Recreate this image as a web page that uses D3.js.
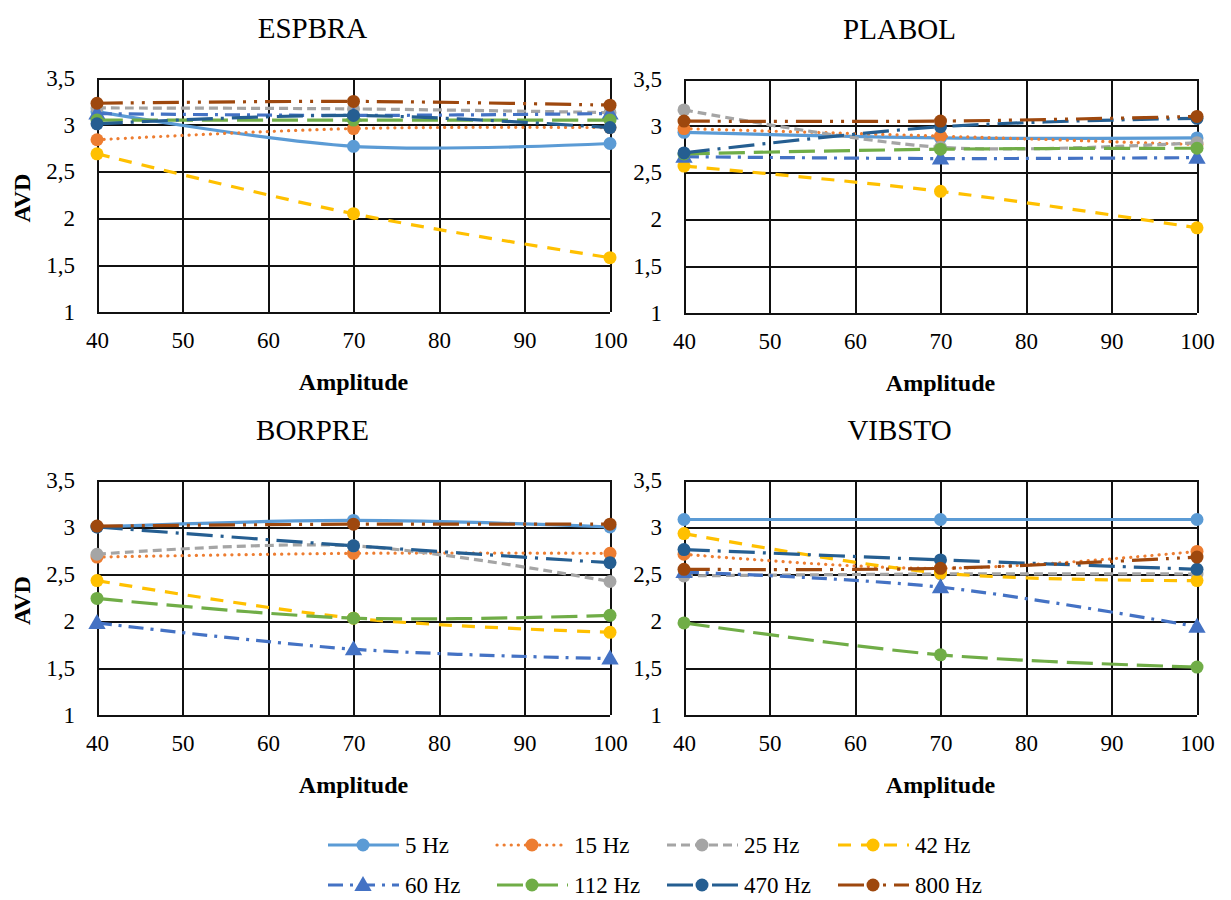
<!DOCTYPE html>
<meta charset="utf-8">
<script src="https://d3js.org/d3.v7.min.js"></script>
<style>
body { margin: 0; background: #fff; }
svg text { font-family: "Liberation Serif", "Times New Roman", serif !important; fill: #000; }
.grid line { stroke: #111; stroke-width: 2; shape-rendering: crispEdges; }
.grid path { display: none; }
.grid text { font-size: 23px; }
</style>
<body>
<script>
// data
var amplitudes = [40, 70, 100];
var seriesNames = ["5 Hz", "15 Hz", "25 Hz", "42 Hz", "60 Hz", "112 Hz", "470 Hz", "800 Hz"];
var xTicks = [40, 50, 60, 70, 80, 90, 100];
var yTicks = [1, 1.5, 2, 2.5, 3, 3.5];
var panelTitles = ["ESPBRA", "PLABOL", "BORPRE", "VIBSTO"];

// one row per series (5 Hz ... 800 Hz), values at amplitude 40, 70, 100
var espbra = [
    [3.14, 2.77, 2.80],
    [2.84, 2.96, 2.97],
    [3.18, 3.17, 3.13],
    [2.69, 2.05, 1.58],
    [3.12, 3.10, 3.12],
    [3.05, 3.05, 3.05],
    [3.01, 3.10, 2.97],
    [3.23, 3.25, 3.21]
];
var plabol = [
    [2.93, 2.87, 2.87],
    [2.97, 2.89, 2.80],
    [3.17, 2.77, 2.82],
    [2.57, 2.30, 1.91],
    [2.67, 2.65, 2.66],
    [2.70, 2.75, 2.76],
    [2.71, 2.99, 3.08],
    [3.05, 3.05, 3.10]
];
var borpre = [
    [3.00, 3.07, 3.00],
    [2.68, 2.72, 2.72],
    [2.71, 2.80, 2.42],
    [2.43, 2.03, 1.88],
    [1.98, 1.70, 1.60],
    [2.24, 2.03, 2.06],
    [3.00, 2.80, 2.62],
    [3.01, 3.03, 3.03]
];
var vibsto = [
    [3.08, 3.08, 3.08],
    [2.71, 2.56, 2.74],
    [2.48, 2.50, 2.50],
    [2.93, 2.51, 2.43],
    [2.52, 2.36, 1.94],
    [1.98, 1.64, 1.51],
    [2.76, 2.65, 2.55],
    [2.55, 2.56, 2.68]
];
var panelData = [espbra, plabol, borpre, vibsto];

// styles
var colors = ["#5B9BD5", "#ED7D31", "#A5A5A5", "#FFC000", "#4472C4", "#70AD47", "#255E91", "#9E480E"];
var dashes = [null, "0.1,7", "9,5", "13,10", "15,7,3,7", "26,9", "26,8,3,8", "26,8,3,8,3,8"];
var markerShape = ["circle", "circle", "circle", "circle", "triangle", "circle", "circle", "circle"];

var boxes = [
    {x0: 97, x1: 610, y0: 78, y1: 312, yTitle: true},
    {x0: 684, x1: 1197, y0: 79, y1: 313, yTitle: false},
    {x0: 97, x1: 610, y0: 480, y1: 715, yTitle: true},
    {x0: 684, x1: 1197, y0: 480, y1: 715, yTitle: false}
];

var svg = d3.select("body").append("svg")
    .attr("width", 1231)
    .attr("height", 900);

var fmt = function(d) { return String(d).replace(".", ","); };

function addMarker(g, shape, cx, cy, col) {
    if (shape == "triangle") {
        g.append("path")
            .attr("d", d3.symbol(d3.symbolTriangle, 130)())
            .attr("transform", "translate(" + cx + "," + (cy + 1) + ")")
            .attr("fill", col);
    } else {
        g.append("circle")
            .attr("cx", cx).attr("cy", cy).attr("r", 6.5)
            .attr("fill", col);
    }
}

boxes.forEach(function(b, p) {
    var x = d3.scaleLinear().domain([40, 100]).range([b.x0, b.x1]);
    var y = d3.scaleLinear().domain([1, 3.5]).range([b.y1, b.y0]);
    var g = svg.append("g");

    // gridlines + tick labels
    g.append("g")
        .attr("class", "grid")
        .attr("transform", "translate(0," + b.y1 + ")")
        .call(d3.axisBottom(x).tickValues(xTicks).tickSize(-(b.y1 - b.y0)).tickPadding(20));
    g.append("g")
        .attr("class", "grid")
        .attr("transform", "translate(" + b.x0 + ",0)")
        .call(d3.axisLeft(y).tickValues(yTicks).tickSize(-(b.x1 - b.x0)).tickPadding(22).tickFormat(fmt));

    // series
    var line = d3.line()
        .x(function(d, i) { return x(amplitudes[i]); })
        .y(function(d) { return y(d); })
        .curve(d3.curveCardinal.tension(0));

    panelData[p].forEach(function(vals, s) {
        var sg = g.append("g");
        sg.append("path")
            .attr("d", line(vals))
            .attr("fill", "none")
            .attr("stroke", colors[s])
            .attr("stroke-width", 3.2)
            .attr("stroke-linecap", s == 1 ? "round" : "butt")
            .attr("stroke-dasharray", dashes[s]);
        vals.forEach(function(v, i) {
            addMarker(sg, markerShape[s], x(amplitudes[i]), y(v), colors[s]);
        });
    });

    // titles
    svg.append("text")
        .attr("x", (b.x0 + b.x1) / 2 - 41)
        .attr("y", b.y0 - 40)
        .attr("text-anchor", "middle")
        .attr("font-size", "29px")
        .text(panelTitles[p]);

    svg.append("text")
        .attr("x", (b.x0 + b.x1) / 2)
        .attr("y", b.y1 + 78)
        .attr("text-anchor", "middle")
        .attr("font-size", "24px")
        .attr("font-weight", "bold")
        .text("Amplitude");

    if (b.yTitle) {
        svg.append("text")
            .attr("transform", "translate(30," + ((b.y0 + b.y1) / 2 + 3) + ") rotate(-90)")
            .attr("text-anchor", "middle")
            .attr("font-size", "24px")
            .attr("font-weight", "bold")
            .text("AVD");
    }
});

// legend
var legX = [328, 497, 667, 838];
var legY = [845, 885];
seriesNames.forEach(function(name, s) {
    var lx = legX[s % 4], ly = legY[Math.floor(s / 4)];
    var lg = svg.append("g");
    lg.append("line")
        .attr("x1", lx).attr("x2", lx + 71)
        .attr("y1", ly).attr("y2", ly)
        .attr("stroke", colors[s])
        .attr("stroke-width", 3.2)
        .attr("stroke-linecap", s == 1 ? "round" : "butt")
        .attr("stroke-dasharray", dashes[s]);
    addMarker(lg, markerShape[s], lx + 35, ly, colors[s]);
    lg.append("text")
        .attr("x", lx + 77)
        .attr("y", ly)
        .attr("dy", "0.35em")
        .attr("font-size", "23px")
        .text(name);
});
</script>
</body>
